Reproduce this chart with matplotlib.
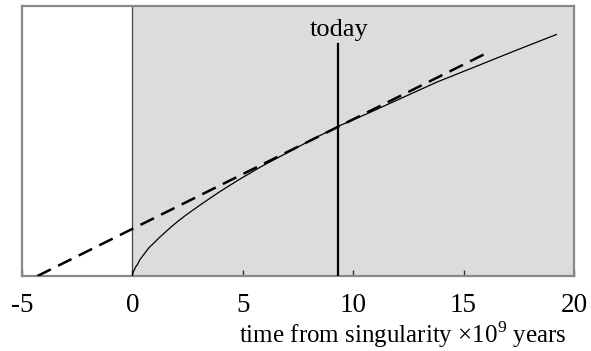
import matplotlib.pyplot as plt
import numpy as np

plt.rcParams['font.family'] = ['Liberation Serif', 'DejaVu Serif']
plt.rcParams['mathtext.fontset'] = 'custom'
plt.rcParams['mathtext.rm'] = 'Liberation Serif'

# solid curve: size of the universe vs time (arbitrary units)
curve_t = [0.0, 0.01, 0.03, 0.05, 0.1, 0.16, 0.23, 0.33, 0.45, 0.6, 0.76, 0.95, 1.2,
           1.45, 1.75, 2.05, 2.4, 3.1, 3.9, 4.8, 5.8, 6.9, 8.1, 9.3, 10.7, 12.2,
           13.8, 15.5, 17.3, 19.2]
curve_y = [0.0, 0.15, 0.35, 0.45, 0.7, 0.95, 1.15, 1.6, 1.95, 2.4, 2.85, 3.25, 3.8,
           4.3, 4.9, 5.45, 6.05, 7.15, 8.35, 9.6, 10.9, 12.2, 13.6, 14.95, 16.3, 17.8,
           19.4, 20.9, 22.5, 24.15]

# dashed line: constant expansion rate extrapolated back
dash_t = [-4.3, 16.05]
dash_y = [0.0, 22.3]

today = 9.3
today_top = 23.2

xticks = [-5, 0, 5, 10, 15, 20]
xticklabels = ['-5', '0', '5', '10', '15', '20']

fig = plt.figure(figsize=(5.91, 3.51), dpi=100)
ax = fig.add_axes([22 / 591, 1 - 276 / 351, 552 / 591, 270 / 351])
ax.set_xlim(-5, 20)
ax.set_ylim(0, 27)

ax.axvspan(0, 20, color='#dcdcdc', lw=0, zorder=0)
ax.axvline(0, color='#444444', lw=0.9, zorder=1)

ax.plot(curve_t, curve_y, color='black', lw=0.9, zorder=3)
ax.plot(dash_t, dash_y, color='black', lw=1.8, dashes=(6, 3.2), zorder=3)

ax.plot([today, today], [0, today_top], color='black', lw=1.6, zorder=4)
ax.text(today + 0.05, today_top + 0.3, 'today', ha='center', va='bottom', fontsize=19)

for s in ax.spines.values():
    s.set_color('#888888')
    s.set_linewidth(1.6)

ax.set_yticks([])
ax.set_xticks(xticks)
ax.set_xticklabels(xticklabels)
ax.tick_params(axis='x', direction='in', length=4, width=1, color='#333333',
               labelsize=19.5, pad=12)

fig.text(567 / 591, 1 - 343 / 351, r'time from singularity $\times$10$^9$ years',
         ha='right', va='baseline', fontsize=18)

fig.savefig('out.png', dpi=100)
